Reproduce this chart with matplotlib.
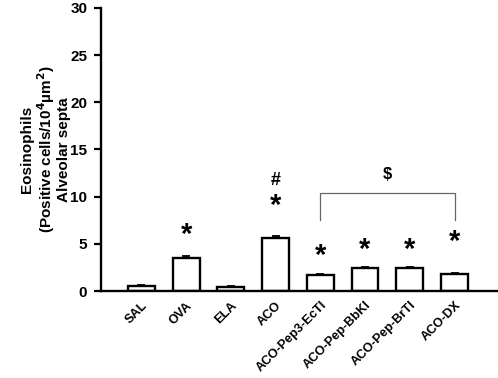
import matplotlib
matplotlib.use('Agg')
import matplotlib.pyplot as plt
import numpy as np

plt.rcParams['font.family'] = ['Liberation Sans', 'DejaVu Sans']

groups = ['SAL', 'OVA', 'ELA', 'ACO', 'ACO-Pep3-EcTI', 'ACO-Pep-BbKI', 'ACO-Pep-BrTI', 'ACO-DX']
means = [0.5, 3.5, 0.4, 5.6, 1.7, 2.45, 2.45, 1.8]
sems = [0.1, 0.2, 0.1, 0.25, 0.15, 0.1, 0.1, 0.1]
star_y = [None, 5.9, None, 9.0, 3.7, 4.35, 4.35, 5.2]
hash_y = 11.7
bracket = (4, 7, 10.4, 7.5)  # from group, to group, top, bottom end
dollar_y = 12.3

fig = plt.figure(figsize=(4.98, 3.78), dpi=100)
ax = fig.add_axes([0.203, 0.230, 0.795, 0.749])

x = np.arange(len(groups))
ax.bar(x, means, width=0.6, color='white', edgecolor='black', linewidth=1.7, zorder=2)
ax.errorbar(x, means, yerr=[np.zeros(len(sems)), sems], fmt='none', ecolor='black',
            elinewidth=1.3, capsize=3, capthick=1.3, zorder=1)

for xi, sy in zip(x, star_y):
    if sy is not None:
        ax.text(xi, sy, '*', ha='center', va='center', fontsize=21, fontweight='bold')
ax.text(3, hash_y, '#', ha='center', va='center', fontsize=13, fontweight='bold')

b0, b1, top, bot = bracket
ax.plot([b0, b0, b1, b1], [bot, top, top, bot], color='#666666', linewidth=0.9)
ax.text((b0 + b1) / 2, dollar_y, '$', ha='center', va='center', fontsize=12, fontweight='bold')

ax.set_xlim(-0.9, 7.95)
ax.set_ylim(0, 30)
ax.set_yticks([0, 5, 10, 15, 20, 25, 30])
ax.set_xticks(x)
ax.set_xticklabels(groups, rotation=45, ha='right', rotation_mode='anchor',
                   fontsize=9.2, fontweight='bold')
ax.tick_params(axis='x', length=0, pad=6)
ax.tick_params(axis='y', length=5, width=1.6, labelsize=11, pad=5)
for lab in ax.get_yticklabels():
    lab.set_fontweight('bold')

ax.spines['top'].set_visible(False)
ax.spines['right'].set_visible(False)
ax.spines['left'].set_linewidth(1.7)
ax.spines['bottom'].set_linewidth(1.7)

ax.set_ylabel('Eosinophils\n(Positive cells/10$^\\mathbf{4}$\u00b5m$^\\mathbf{2}$)\nAlveolar septa',
              fontsize=11, fontweight='bold', linespacing=1.05)
ax.yaxis.set_label_coords(-0.075, 0.5)

fig.savefig('out.png', dpi=100)
